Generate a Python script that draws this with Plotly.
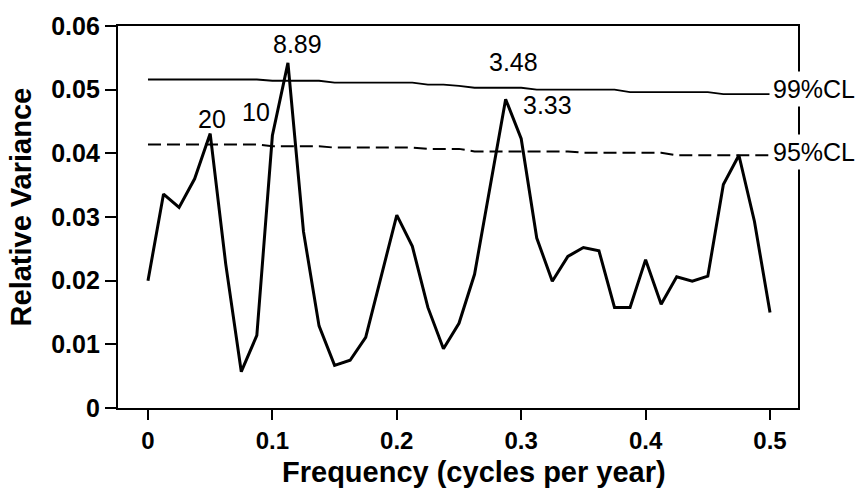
import plotly.graph_objects as go

# frequencies k/80, k = 0..40 (cycles per year)
freq = [k / 80 for k in range(41)]

rel_variance = [
    0.0200, 0.0336, 0.0315, 0.0360, 0.0431, 0.0226, 0.0057, 0.0114, 0.0428, 0.0542,
    0.0277, 0.0129, 0.0067, 0.0075, 0.0111, 0.0207, 0.0303, 0.0254, 0.0158, 0.0093,
    0.0133, 0.0210, 0.0345, 0.0485, 0.0423, 0.0267, 0.0199, 0.0238, 0.0252, 0.0247,
    0.0158, 0.0158, 0.0233, 0.0163, 0.0206, 0.0199, 0.0207, 0.0351, 0.0397, 0.0293,
    0.0150,
]

cl99 = [0.0516] * 8 + [0.0514] * 4 + [0.0511] * 6 + [0.0508] * 2 + [0.0506] + \
       [0.0503] * 4 + [0.0500] * 6 + [0.0496] * 6 + [0.0493] * 4
cl95 = [0.0414] * 8 + [0.0411] * 4 + [0.0409] * 6 + [0.0407] * 3 + \
       [0.0403] * 7 + [0.0401] * 6 + [0.0397] * 7

# period labels (years) at peaks: (text, x, y)
peak_labels = [("20", 0.0514, 0.0450), ("10", 0.0868, 0.0460), ("8.89", 0.1202, 0.0567),
               ("3.48", 0.2942, 0.0539), ("3.33", 0.3215, 0.0471)]
cl_labels = [("99%CL", 0.0497), ("95%CL", 0.0398)]

y_ticks = [0, 0.01, 0.02, 0.03, 0.04, 0.05, 0.06]
y_ticktext = ["0", "0.01", "0.02", "0.03", "0.04", "0.05", "0.06"]
x_ticks = [0, 0.1, 0.2, 0.3, 0.4, 0.5]
x_ticktext = ["0", "0.1", "0.2", "0.3", "0.4", "0.5"]

FONT = "Liberation Sans, Arial, sans-serif"

fig = go.Figure()
fig.add_trace(go.Scatter(x=freq, y=cl99, mode="lines",
                         line=dict(color="black", width=1.8), hoverinfo="skip"))
fig.add_trace(go.Scatter(x=freq, y=cl95, mode="lines",
                         line=dict(color="black", width=2, dash="13px,6px"), hoverinfo="skip"))
fig.add_trace(go.Scatter(x=freq, y=rel_variance, mode="lines",
                         line=dict(color="black", width=3)))

for t, x, y in peak_labels:
    fig.add_annotation(x=x, y=y, text=t, showarrow=False, xanchor="center", yanchor="middle",
                       yshift=3, font=dict(family=FONT, size=25, color="black"))
for t, y in cl_labels:
    fig.add_annotation(x=0.5, y=y, text=t, showarrow=False, xanchor="left", yanchor="middle",
                       bgcolor="white", borderpad=3, xshift=-1, yshift=3,
                       font=dict(family=FONT, size=25, color="black"))

fig.add_annotation(xref="paper", yref="paper", x=0.5235, y=-0.168, text="<b>Frequency (cycles per year)</b>",
                   showarrow=False, xanchor="center", yanchor="middle",
                   font=dict(family=FONT, size=29, color="black"))
fig.add_annotation(xref="paper", yref="paper", x=-0.143, y=0.527, text="<b>Relative Variance</b>",
                   showarrow=False, xanchor="center", yanchor="middle", textangle=-90,
                   font=dict(family=FONT, size=29, color="black"))

fig.update_layout(
    width=860, height=495,
    margin=dict(l=118, r=62, t=22, b=87),
    paper_bgcolor="white", plot_bgcolor="white",
    showlegend=False,
    font=dict(family=FONT, color="black"),
)
fig.update_xaxes(range=[-0.0241, 0.5225], tickvals=x_ticks, ticktext=x_ticktext,
                 ticks="outside", ticklen=10, tickwidth=2, tickcolor="black",
                 showline=True, linewidth=2.2, linecolor="black", mirror=True,
                 showgrid=False, zeroline=False,
                 tickfont=dict(family=FONT, size=24, color="black", weight="bold"))
fig.update_yaxes(range=[0, 0.06], tickvals=y_ticks, ticktext=y_ticktext,
                 ticks="outside", ticklen=11, tickwidth=2, tickcolor="black",
                 showline=True, linewidth=2.2, linecolor="black", mirror=True,
                 showgrid=False, zeroline=False,
                 tickfont=dict(family=FONT, size=25, color="black", weight="bold"))

fig.write_html("out.html")
